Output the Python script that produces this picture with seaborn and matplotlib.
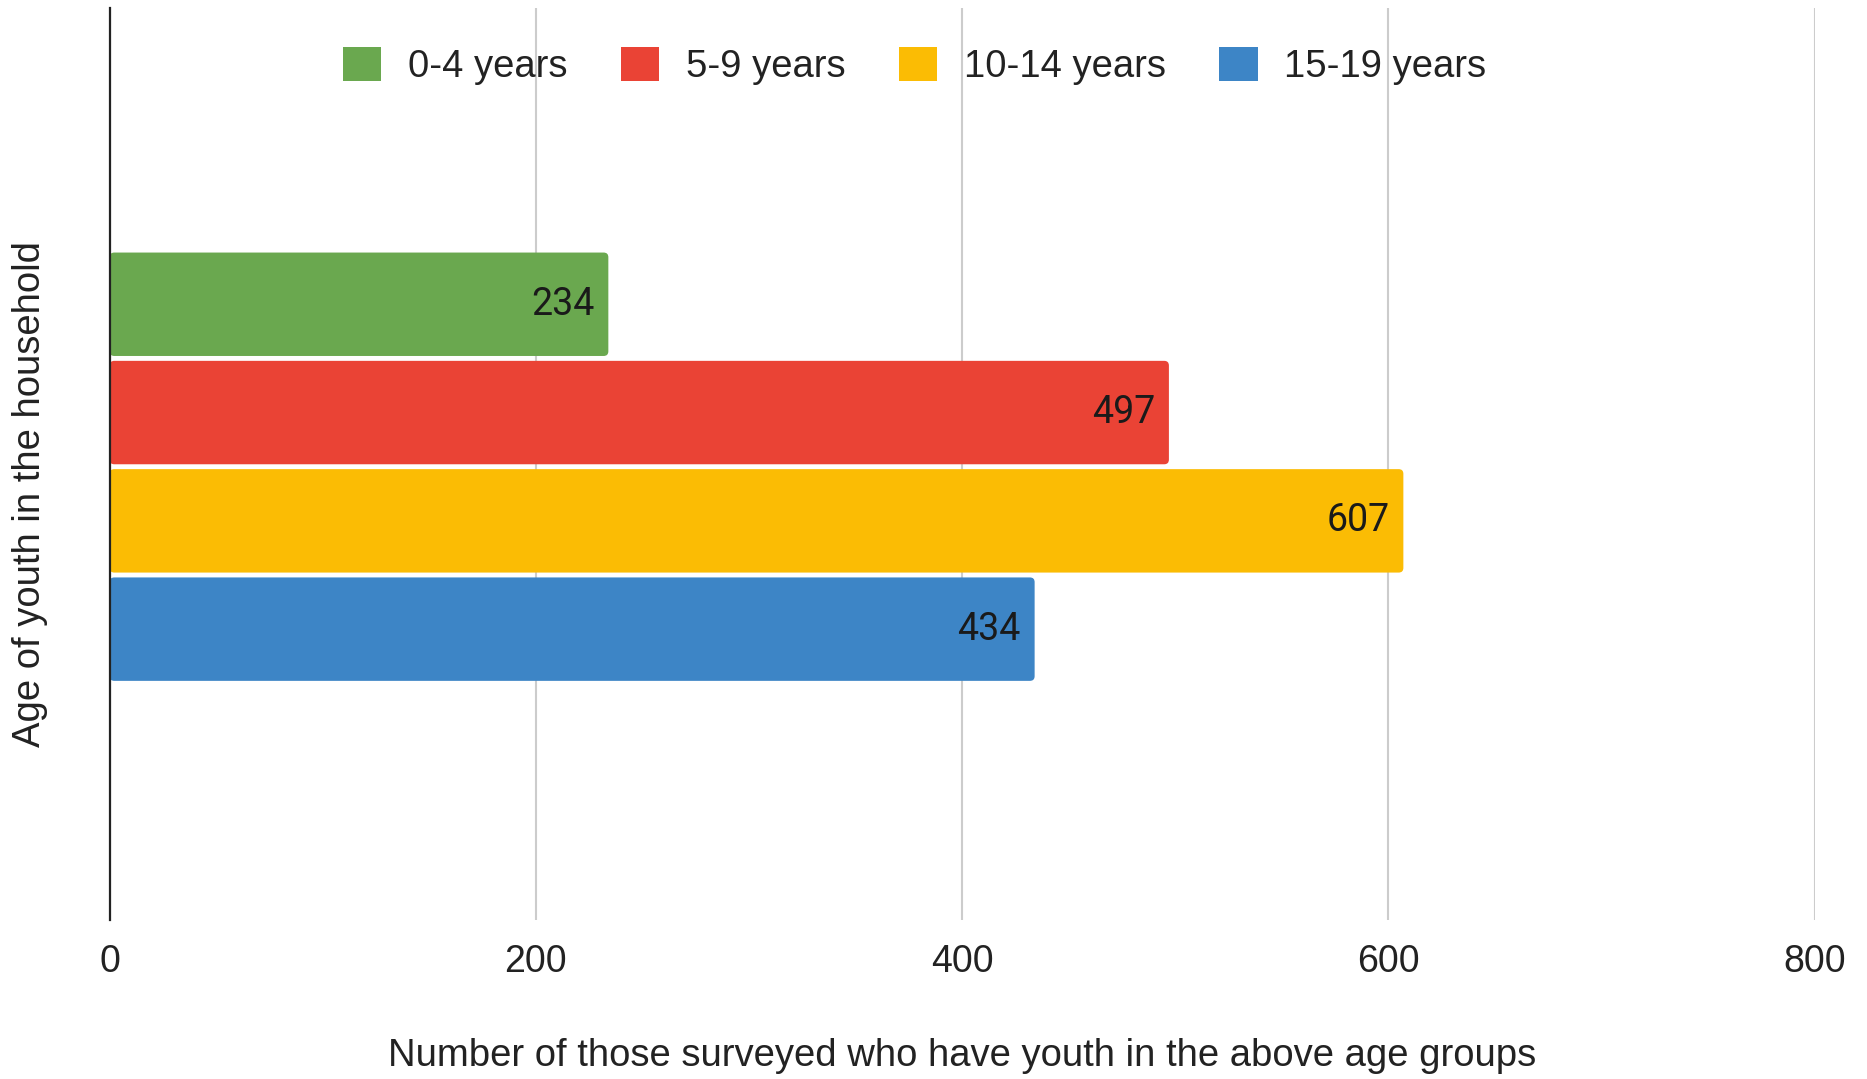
import pandas as pd
import matplotlib
matplotlib.use('Agg')
import matplotlib.pyplot as plt
import matplotlib.patches as mpatches
import seaborn as sns

# dados do grafico
grupos = ['0-4 years', '5-9 years', '10-14 years', '15-19 years']
contagens = [234, 497, 607, 434]
cores = ['#6aa84f', '#ea4335', '#fbbc04', '#3d85c6']
ticks_x = [0, 200, 400, 600, 800]

df = pd.DataFrame({'categoria': [''] * len(grupos), 'idade': grupos, 'total': contagens})

sns.set_style('white')
plt.rcParams['font.family'] = ['Liberation Sans', 'DejaVu Sans']

fig = plt.figure(figsize=(18.67, 10.79), dpi=100)
ax = fig.add_axes([0.0587, 0.1474, 0.9133, 0.8452])

sns.barplot(data=df, x='total', y='categoria', hue='idade', hue_order=grupos,
            palette=cores, orient='h', width=0.475, gap=0.045, saturation=1,
            legend=False, ax=ax)

ax.set_xlim(0, 800)
ax.set_ylim(0.497, -0.503)

# cantos arredondados: troca cada barra por um FancyBboxPatch equivalente
aspecto = (1.0 / (0.8452 * 1079)) / (800.0 / (0.9133 * 1867))
for p in list(ax.patches):
    x0, y0, w, h = p.get_x(), p.get_y(), p.get_width(), p.get_height()
    novo = mpatches.FancyBboxPatch((x0, y0), w, h,
                                   boxstyle='round,pad=0,rounding_size=2.2',
                                   mutation_aspect=aspecto,
                                   facecolor=p.get_facecolor(), edgecolor='none',
                                   zorder=p.get_zorder())
    p.set_visible(False)
    ax.add_patch(novo)
    # rotulo dentro da barra
    ax.annotate(f'{int(round(w))}', (w, y0 + h / 2),
                xytext=(-10, 0), textcoords='offset points',
                ha='right', va='center', fontsize=27, color='#1a1a1a',
                family='Roboto')

ax.set_xticks(ticks_x)
ax.set_xticklabels([str(t) for t in ticks_x], fontsize=27, color='#222222')
ax.set_yticks([])
ax.tick_params(axis='x', length=0, pad=17)
ax.grid(axis='x', color='#cccccc', linewidth=1.5)
ax.set_axisbelow(True)
for lado in ['top', 'right', 'bottom']:
    ax.spines[lado].set_visible(False)
ax.spines['left'].set_color('#222222')
ax.spines['left'].set_linewidth(1.6)
ax.spines['left'].set_zorder(5)

ax.set_xlabel('Number of those surveyed who have youth in the above age groups',
              fontsize=27.5, color='#222222')
ax.xaxis.set_label_coords(0.5, -0.149)
ax.set_ylabel('Age of youth in the household', fontsize=27.5, color='#222222')
ax.yaxis.set_label_coords(-0.0466, 0.467)
ax.xaxis.label.set_va('center')
ax.yaxis.label.set_va('center')

alcas = [mpatches.Patch(facecolor=c, edgecolor='none') for c in cores]
fig.legend(alcas, grupos, loc='center', bbox_to_anchor=(0.49, 0.939), ncol=4,
           frameon=False, fontsize=27.5, handlelength=1.0, handleheight=1.0,
           handletextpad=0.7, columnspacing=1.4, labelcolor='#222222')

plt.savefig('out.png', dpi=100)
